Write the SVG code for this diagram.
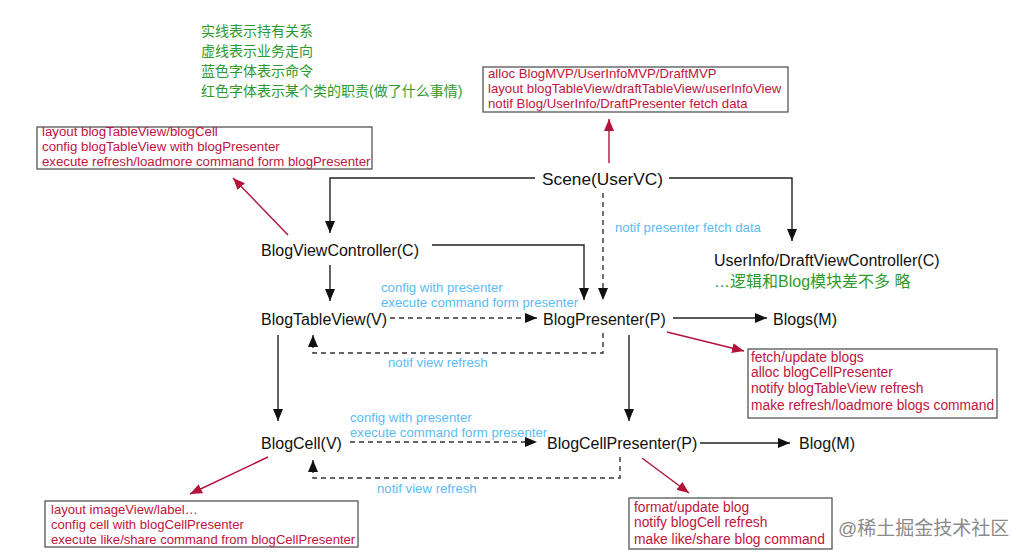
<svg xmlns="http://www.w3.org/2000/svg" width="1016" height="556" viewBox="0 0 1016 556">
<defs>
<style>
text{font-family:"Liberation Sans","Noto Sans CJK SC",sans-serif}
.node{font-size:16px;fill:#111}
.legend{font-size:14px;fill:#2e9a2e}
.cmd{font-size:13.2px;fill:#5bbcf5}
.duty{font-size:13px;fill:#c0143c}
.box{fill:#fff;stroke:#555;stroke-width:1.3}
.solid{fill:none;stroke:#222;stroke-width:1.4;marker-end:url(#ah)}
.dash{fill:none;stroke:#333;stroke-width:1.4;stroke-dasharray:5 4;marker-end:url(#ah)}
.red{fill:none;stroke:#b3123a;stroke-width:1.4;marker-end:url(#ahr)}
</style>
<marker id="ah" markerUnits="userSpaceOnUse" markerWidth="12" markerHeight="10" viewBox="0 0 12 10" refX="12" refY="5" orient="auto"><path d="M0,0 L12,5 L0,10 Z" fill="#111"/></marker>
<marker id="ahr" markerUnits="userSpaceOnUse" markerWidth="12" markerHeight="10" viewBox="0 0 12 10" refX="12" refY="5" orient="auto"><path d="M0,0 L12,5 L0,10 Z" fill="#b3123a"/></marker>
</defs>
<rect width="1016" height="556" fill="#fff"/>

<g id="legend">
<text class="legend" x="201" y="36">实线表示持有关系</text>
<text class="legend" x="201" y="56">虚线表示业务走向</text>
<text class="legend" x="201" y="76">蓝色字体表示命令</text>
<text class="legend" x="201" y="96">红色字体表示某个类的职责(做了什么事情)</text>
</g>

<g id="connectors">
<path class="solid" d="M535,178 H330 V233"/>
<path class="solid" d="M669,178 H792 V241"/>
<path class="dash" d="M603,193 V300"/>
<path class="solid" d="M432,245 H584 V300"/>
<path class="solid" d="M330,265 V301"/>
<path class="dash" d="M390,318 H537"/>
<path class="dash" d="M603,333 V353 H313 V335"/>
<path class="solid" d="M673,318 H767"/>
<path class="solid" d="M278,335 V421"/>
<path class="solid" d="M629,335 V421"/>
<path class="dash" d="M350,442 H537"/>
<path class="dash" d="M620,457 V478 H313 V460"/>
<path class="solid" d="M700,443 H790"/>
<path class="red" d="M609,163 V119"/>
<path class="red" d="M288,235 L233,178"/>
<path class="red" d="M667,332 L744,351"/>
<path class="red" d="M268,457 L190,494"/>
<path class="red" d="M642,458 L689,493"/>
</g>

<g id="labels">
<text class="cmd" x="615" y="232">notif presenter fetch data</text>
<text class="cmd" x="381" y="292">config with presenter</text>
<text class="cmd" x="381" y="307">execute command form presenter</text>
<text class="cmd" x="388" y="367">notif view refresh</text>
<text class="cmd" x="350" y="422">config with presenter</text>
<text class="cmd" x="350" y="437">execute command form presenter</text>
<text class="cmd" x="377" y="493">notif view refresh</text>
</g>

<g id="scene"><text class="node" x="542" y="185" style="font-size:17.3px">Scene(UserVC)</text></g>
<g id="blogViewController"><text class="node" x="261" y="256">BlogViewController(C)</text></g>
<g id="userInfoDraftViewController">
<text class="node" x="714" y="266">UserInfo/DraftViewController(C)</text>
<text x="714" y="287" style="font-size:16px;fill:#2e9a2e">…逻辑和Blog模块差不多 略</text>
</g>
<g id="blogTableView"><text class="node" x="261" y="325">BlogTableView(V)</text></g>
<g id="blogPresenter"><text class="node" x="543" y="325">BlogPresenter(P)</text></g>
<g id="blogs"><text class="node" x="773" y="325">Blogs(M)</text></g>
<g id="blogCell"><text class="node" x="261" y="449">BlogCell(V)</text></g>
<g id="blogCellPresenter"><text class="node" x="547" y="449">BlogCellPresenter(P)</text></g>
<g id="blog"><text class="node" x="799" y="449">Blog(M)</text></g>

<g id="sceneDuty" style="font-size:13.2px">
<rect class="box" x="483" y="67" width="305" height="45"/>
<text class="duty" x="488" y="78" style="font-size:13.2px">alloc BlogMVP/UserInfoMVP/DraftMVP</text>
<text class="duty" x="488" y="93" style="font-size:13.2px">layout blogTableView/draftTableView/userInfoView</text>
<text class="duty" x="488" y="108" style="font-size:13.2px">notif Blog/UserInfo/DraftPresenter fetch data</text>
</g>
<g id="blogVCDuty">
<rect class="box" x="37" y="127" width="335" height="42"/>
<text class="duty" x="42" y="136" style="font-size:13.25px">layout blogTableView/blogCell</text>
<text class="duty" x="42" y="151" style="font-size:13.25px">config blogTableView with blogPresenter</text>
<text class="duty" x="42" y="166" style="font-size:13.25px">execute refresh/loadmore command form blogPresenter</text>
</g>
<g id="blogPresenterDuty">
<rect class="box" x="748" y="349" width="249" height="69"/>
<text class="duty" x="751" y="362" style="font-size:13.8px">fetch/update blogs</text>
<text class="duty" x="751" y="377" style="font-size:13.8px">alloc blogCellPresenter</text>
<text class="duty" x="751" y="393" style="font-size:13.8px">notify blogTableView refresh</text>
<text class="duty" x="751" y="410" style="font-size:13.8px">make refresh/loadmore blogs command</text>
</g>
<g id="blogCellDuty">
<rect class="box" x="45" y="501" width="313" height="46"/>
<text class="duty" x="51" y="514" style="font-size:13.1px">layout imageView/label…</text>
<text class="duty" x="51" y="529" style="font-size:13.1px">config cell with blogCellPresenter</text>
<text class="duty" x="51" y="544" style="font-size:13.1px">execute like/share command from blogCellPresenter</text>
</g>
<g id="blogCellPresenterDuty">
<rect class="box" x="629" y="498" width="203" height="51"/>
<text class="duty" x="634" y="512" style="font-size:13.8px">format/update blog</text>
<text class="duty" x="634" y="527" style="font-size:13.8px">notify blogCell refresh</text>
<text class="duty" x="634" y="544" style="font-size:13.8px">make like/share blog command</text>
</g>
<text x="838" y="535" style="font-size:19px;fill:#8a8a8a">@稀土掘金技术社区</text>
</svg>
